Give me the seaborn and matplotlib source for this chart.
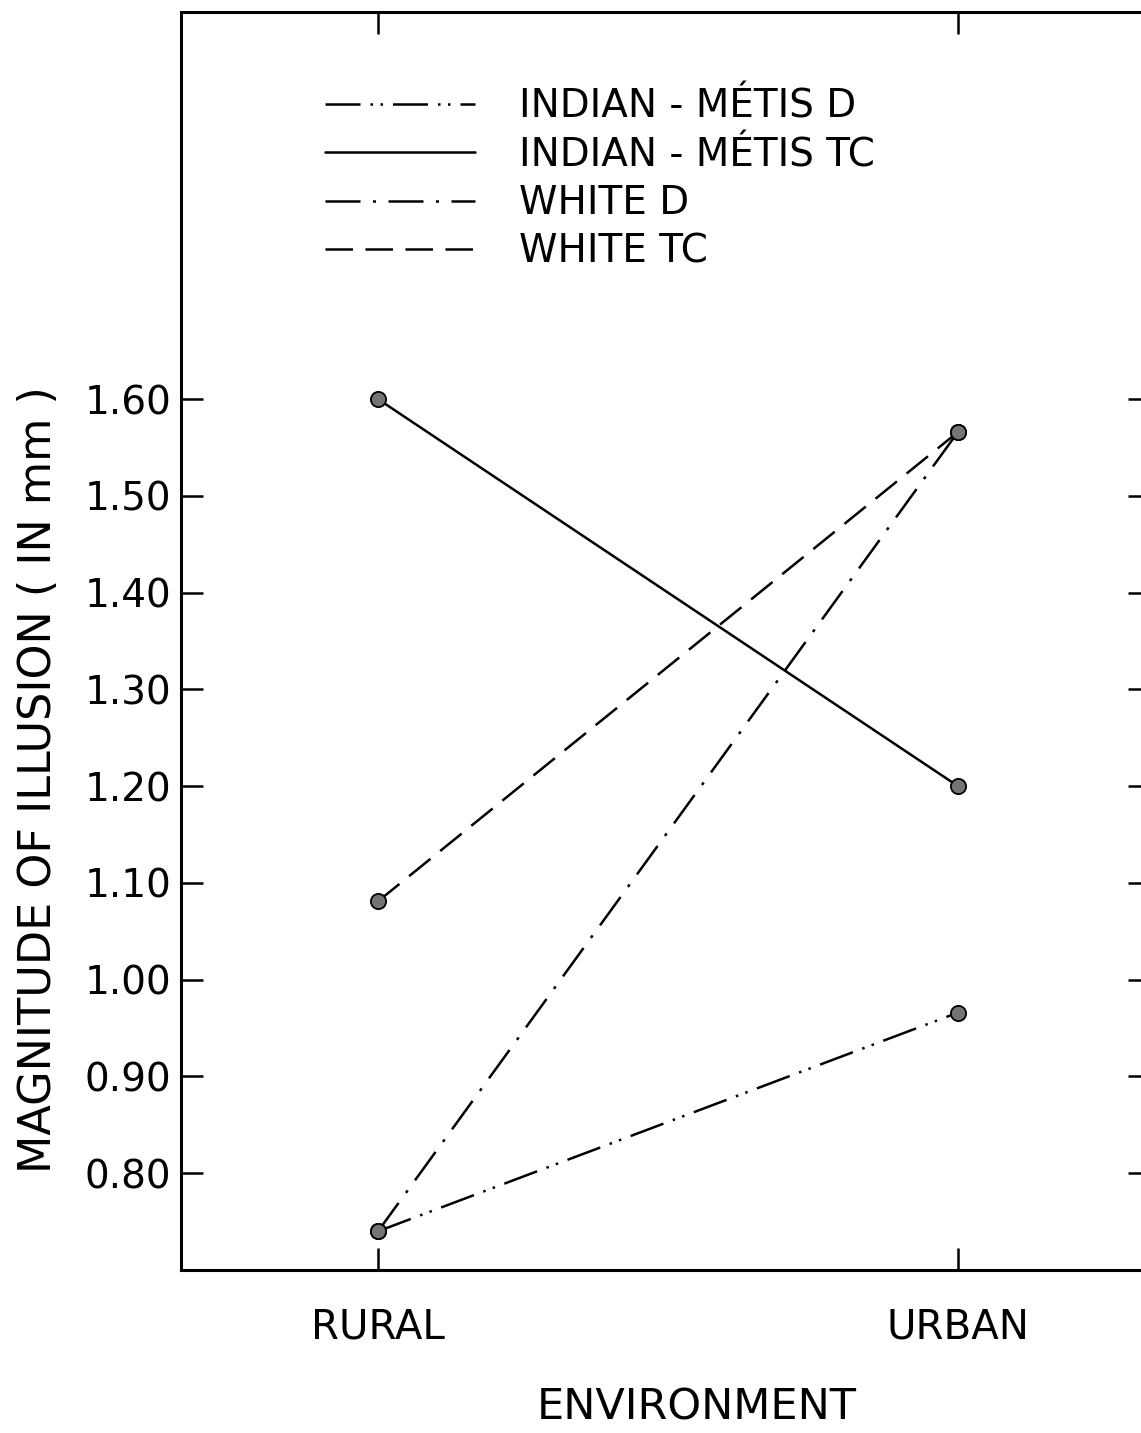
import matplotlib
matplotlib.use("Agg")
import matplotlib.pyplot as plt
import seaborn as sns
import pandas as pd

environments = ["RURAL", "URBAN"]
series_names = ["INDIAN - MÉTIS D", "INDIAN - MÉTIS TC", "WHITE D", "WHITE TC"]
indian_metis_d = [0.74, 0.966]
indian_metis_tc = [1.60, 1.20]
white_d = [0.74, 1.566]
white_tc = [1.081, 1.566]
y_ticks = [0.80, 0.90, 1.00, 1.10, 1.20, 1.30, 1.40, 1.50, 1.60]
y_tick_labels = ["0.80", "0.90", "1.00", "1.10", "1.20", "1.30", "1.40", "1.50", "1.60"]

sns.set_theme(style="white")
plt.rcParams['font.family'] = ['DejaVu Sans']
plt.rcParams['text.color'] = 'black'
plt.rcParams['axes.labelcolor'] = 'black'

W, H = 1141, 1433
L, R, T, B = 181, 1150, 12, 1270
fig = plt.figure(figsize=(W / 100, H / 100), dpi=100)
ax = fig.add_axes([L / W, 1 - B / H, (R - L) / W, (B - T) / H])

rows = []
for name, vals in zip(series_names, [indian_metis_d, indian_metis_tc, white_d, white_tc]):
    for i, v in enumerate(vals):
        rows.append({"env": i, "group": name, "value": v})
df = pd.DataFrame(rows)

dash_map = {
    "INDIAN - MÉTIS D": (14, 4, 1, 3, 1, 4),
    "INDIAN - MÉTIS TC": "",
    "WHITE D": (14, 5, 1.2, 5),
    "WHITE TC": (11, 5),
}
sns.lineplot(data=df, x="env", y="value", hue="group", style="group",
             hue_order=series_names, style_order=series_names,
             palette=["black"] * 4, dashes=dash_map, linewidth=1.8,
             markers=False, ax=ax, legend=True)
sns.scatterplot(data=df, x="env", y="value", color="#747474", edgecolor="black",
                linewidth=1.3, s=120, zorder=5, ax=ax, legend=False)

ax.set_xlim(-(378 - L) / 580, 1 + (R - 958) / 580)
ax.set_ylim(0.70, 2.0)
ax.set_xticks([0, 1])
ax.set_xticklabels(environments)
ax.set_yticks(y_ticks)
ax.set_yticklabels(y_tick_labels)

for sp in ax.spines.values():
    sp.set_visible(True)
    sp.set_color("black")
    sp.set_linewidth(2.2)

ax.tick_params(axis="y", which="both", direction="in", length=16, width=1.8,
               left=True, right=True, labelsize=28, pad=7, colors="black")
ax.tick_params(axis="x", which="both", direction="in", length=16, width=1.8,
               bottom=True, top=True, labelsize=29, pad=27, colors="black")

ax.set_xlabel("ENVIRONMENT", fontsize=31)
ax.xaxis.set_label_coords((697 - L) / (R - L), -(1386 - B) / (B - T))
ax.set_ylabel("MAGNITUDE OF ILLUSION ( IN mm )", fontsize=32)
ax.yaxis.set_label_coords(-(L - 60) / (R - L), (B - 780) / (B - T))

handles, labels = ax.get_legend_handles_labels()
leg = ax.legend(handles, labels, loc="upper left",
                bbox_to_anchor=(325 / W, 1 - 88 / H), bbox_transform=fig.transFigure,
                frameon=False, fontsize=28, handlelength=3.85, handletextpad=1.15,
                labelspacing=0.26, borderpad=0, borderaxespad=0)
for line in leg.get_lines():
    line.set_linewidth(1.8)

fig.savefig("out.png", dpi=100)
